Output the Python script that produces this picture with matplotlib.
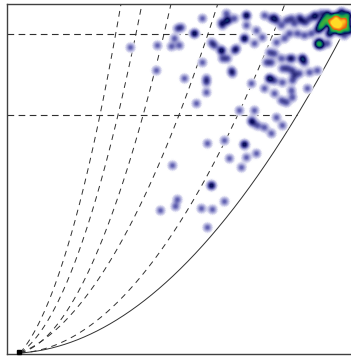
import numpy as np
import matplotlib
matplotlib.use("Agg")
import matplotlib.pyplot as plt
from matplotlib.colors import LinearSegmentedColormap

# Scattered observations (x, y)
obs_x = [111, 138, 152, 137, 153, 141, 156, 158, 182, 192, 192, 193, 205, 188,
         207, 208, 208, 202, 215, 227, 227, 245, 252, 257, 262, 272, 275, 282,
         290, 295, 302, 303, 183, 162, 158, 175, 175, 155, 227, 237, 203, 192,
         195, 202, 202, 215, 217, 225, 225, 235, 243, 257, 265, 270, 278, 285,
         292, 298, 300, 302, 299, 300, 308, 250, 255, 252, 247, 262, 270, 273,
         283, 283, 285, 160, 183, 203, 208, 212, 213, 165, 187, 187, 187, 232,
         250, 250, 255, 263, 268, 273, 275, 280, 290, 298, 263, 273, 288, 245,
         272, 273, 262, 267, 255, 177, 220, 235, 232, 233, 238, 245, 257, 263,
         252, 225, 225, 188, 205, 210, 227, 237, 222, 255, 267, 280, 286]
obs_y = [306, 308, 307, 283, 188, 143, 147, 154, 145, 168, 168, 144, 152, 126,
         340, 333, 333, 331, 335, 338, 338, 338, 335, 333, 328, 335, 330, 333,
         335, 338, 340, 330, 335, 326, 325, 320, 320, 315, 328, 323, 328, 311,
         308, 303, 303, 303, 305, 315, 315, 310, 316, 311, 315, 320, 320, 318,
         320, 310, 310, 308, 308, 312, 310, 301, 300, 291, 291, 295, 295, 295,
         295, 295, 291, 308, 291, 295, 295, 283, 280, 275, 275, 271, 261, 270,
         275, 275, 273, 285, 285, 283, 278, 280, 281, 283, 271, 273, 265, 265,
         263, 256, 253, 251, 260, 250, 243, 243, 233, 231, 228, 226, 236, 228,
         220, 209, 209, 210, 213, 195, 196, 200, 186, 336, 333, 336, 331]

# Crowded corner: locations with repeat counts
core_x = [318, 312, 324, 320, 314, 326, 316, 305, 302, 308, 322, 328, 310, 325,
          330, 296, 299, 315, 321, 318, 309, 327]
core_y = [329, 331, 333, 323, 325, 326, 336, 333, 328, 339, 341, 338, 320, 318,
          323, 337, 324, 330, 328, 334, 335, 331]
core_n = [7, 6, 6, 4, 4, 4, 5, 3, 3, 2, 2, 3, 2, 1, 2, 1, 2, 4, 4, 4, 2, 3]

# Model curves y = a*x + b*x**2 through the origin
dashed_a = [1.146, 0.665, 0.259, 0.40, 0.0565]
dashed_b = [0.02287, 0.018, 0.01359, 0.0069, 0.00476]
limit_a, limit_b = 0.066, 0.00286

# Horizontal guide levels
levels = [238, 319]
origin = (0, 0)

xmin, xmax, ymin, ymax = -13, 331, -1, 349

fig = plt.figure(figsize=(3.51, 3.56), dpi=100)
ax = fig.add_axes([7 / 351, 2 / 356, 344 / 351, 350 / 356])
ax.set_xlim(xmin, xmax)
ax.set_ylim(ymin, ymax)

# Smoothed point density
gx = np.arange(xmin - 10, xmax + 11, 1.0)
gy = np.arange(ymin - 10, ymax + 11, 1.0)
GX, GY = np.meshgrid(gx, gy)
dens = np.zeros_like(GX)
sig = 2.8
pts = list(zip(obs_x, obs_y, [1] * len(obs_x))) + list(zip(core_x, core_y, core_n))
for px, py, n in pts:
    dens += n * np.exp(-((GX - px) ** 2 + (GY - py) ** 2) / (2 * sig ** 2))

cmap = LinearSegmentedColormap.from_list("dens", [
    (0.00, (1.0, 1.0, 1.0, 0.0)),
    (0.02, (0.85, 0.85, 0.94, 1.0)),
    (0.09, (0.42, 0.42, 0.72, 1.0)),
    (0.18, (0.04, 0.04, 0.36, 1.0)),
    (0.26, (0.0, 0.30, 0.42, 1.0)),
    (0.34, (0.08, 0.60, 0.32, 1.0)),
    (0.52, (0.30, 0.72, 0.20, 1.0)),
    (0.62, (0.91, 0.36, 0.07, 1.0)),
    (0.80, (0.96, 0.60, 0.10, 1.0)),
    (1.00, (1.0, 0.86, 0.15, 1.0)),
])
ax.imshow(dens, extent=(gx[0] - 0.5, gx[-1] + 0.5, gy[0] - 0.5, gy[-1] + 0.5),
          origin="lower", cmap=cmap, vmin=0, vmax=10, interpolation="bilinear",
          aspect="auto", zorder=3)

lc = "#303030"
xs = np.linspace(0, 400, 800)
for a, b in zip(dashed_a, dashed_b):
    ax.plot(xs, a * xs + b * xs ** 2, color=lc, lw=0.7, dashes=(6, 5), zorder=2)
ax.plot(xs, limit_a * xs + limit_b * xs ** 2, color=lc, lw=0.7, zorder=2)

for lv in levels:
    xe = (-limit_a + np.sqrt(limit_a ** 2 + 4 * limit_b * lv)) / (2 * limit_b)
    ax.plot([xmin, xe], [lv, lv], color=lc, lw=0.8, dashes=(6, 4), zorder=2)

ax.plot([origin[0] - 1], [origin[1] + 1], marker="s", ms=2.2, color="black",
        zorder=4, clip_on=False)

ax.set_xticks([])
ax.set_yticks([])
for s in ("left", "top", "bottom"):
    ax.spines[s].set_color("#404040")
    ax.spines[s].set_linewidth(1.0)
ax.spines["right"].set_visible(False)

fig.savefig("out.png", dpi=100)
